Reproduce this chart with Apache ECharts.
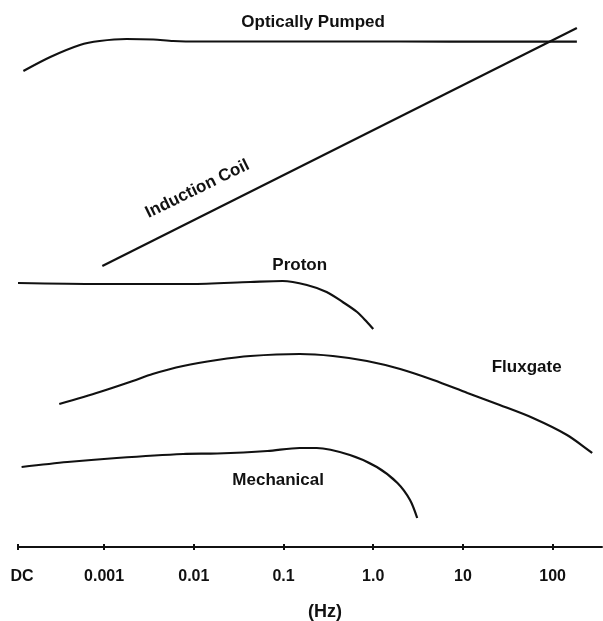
<!DOCTYPE html>
<html>
<head>
<meta charset="utf-8">
<script src="https://cdn.jsdelivr.net/npm/echarts@6/dist/echarts.min.js"></script>
<style>
  html, body { margin: 0; padding: 0; background: #fff; }
  #chart { width: 603px; height: 621px; }
</style>
</head>
<body>
<div id="chart"></div>
<script>
// x is log10(Hz); DC sits just left of 0.001
const tickValues = [-3.96, -3, -2, -1, 0, 1, 2]
const tickLabels = ['DC', '0.001', '0.01', '0.1', '1.0', '10', '100']

// relative sensitivity
const opticallyPumped = [
  [-3.90, 476], [-3.60, 490], [-3.27, 502], [-3.05, 506], [-2.75, 508], [-2.45, 507.5],
  [-2.23, 506], [-1.93, 505.5], [-0.82, 505.5], [0.30, 505.5], [1.41, 505.3], [2.27, 505.3]
]
const inductionCoil = [[-3.02, 281], [2.27, 519]]
const proton = [
  [-3.96, 264], [-3.05, 263], [-2.04, 263], [-1.37, 265], [-1.01, 266], [-0.74, 262],
  [-0.52, 255], [-0.34, 245], [-0.18, 235], [-0.07, 225], [0.0, 218]
]
const fluxgate = [
  [-3.50, 143], [-3.05, 155], [-2.68, 166], [-2.46, 173], [-2.12, 181], [-1.74, 187],
  [-1.37, 191], [-0.82, 193], [-0.45, 191], [-0.07, 186], [0.30, 178], [0.67, 167],
  [1.05, 154], [1.41, 142], [1.78, 129], [2.16, 112], [2.44, 94]
]
const mechanical = [
  [-3.92, 80], [-3.41, 85], [-2.86, 89], [-2.12, 93], [-1.74, 93.5], [-1.18, 96],
  [-0.82, 99], [-0.63, 99], [-0.26, 92], [0.04, 80], [0.27, 64], [0.41, 47], [0.49, 29]
]

// where each curve's name sits [x, y, rotate]
const curveLabels = {
  'Optically Pumped': [-0.67, 525, 0],
  'Induction Coil': [-1.96, 358, 26],
  'Proton': [-0.82, 282, 0],
  'Fluxgate': [1.71, 180, 0],
  'Mechanical': [-1.06, 67, 0],
}

const font = '"Liberation Sans", Arial, sans-serif'
const ink = '#111'

function curve(name, data, smooth) {
  const [lx, ly, rot] = curveLabels[name]
  return {
    name,
    type: 'line',
    data,
    smooth,
    symbol: 'none',
    animation: false,
    lineStyle: { color: ink, width: 2.2 },
    markPoint: {
      symbol: 'circle',
      symbolSize: 0,
      silent: true,
      data: [{ coord: [lx, ly] }],
      label: {
        show: true,
        position: 'inside',
        formatter: name,
        rotate: rot,
        color: ink,
        fontFamily: font,
        fontWeight: 'bold',
        fontSize: 17,
      },
    },
  }
}

const labelText = { color: ink, fontFamily: font, fontWeight: 'bold', fontSize: 16 }

const chart = echarts.init(document.getElementById('chart'))
chart.setOption({
  backgroundColor: '#fff',
  animation: false,
  grid: { left: 18, right: 1, top: 0, bottom: 74, outerBoundsMode: 'none', containLabel: false },
  xAxis: [
    {
      type: 'value',
      min: -3.96,
      max: 2.55,
      position: 'bottom',
      splitLine: { show: false },
      axisLine: { lineStyle: { color: ink, width: 2 } },
      axisTick: { customValues: tickValues, length: 3, lineStyle: { color: ink, width: 2 } },
      axisLabel: {
        customValues: tickValues,
        formatter: v => {
          const i = tickValues.indexOf(v)
          if (i < 0) return ''
          return i === 0 ? '{dc|' + tickLabels[i] + '}' : tickLabels[i]
        },
        margin: 22,
        ...labelText,
        rich: { dc: { ...labelText, padding: [0, 0, 0, 8] } },
      },
      name: '(Hz)',
      nameLocation: 'middle',
      nameGap: 56,
      nameTextStyle: {
        color: ink,
        fontFamily: font,
        fontWeight: 'bold',
        fontSize: 18,
        padding: [0, 0, 0, 30],
      },
    },
    {
      type: 'value',
      min: -3.96,
      max: 2.55,
      position: 'bottom',
      splitLine: { show: false },
      axisLine: { show: false },
      axisTick: { inside: true, customValues: tickValues, length: 3, lineStyle: { color: ink, width: 2 } },
      axisLabel: { show: false },
    },
  ],
  yAxis: { type: 'value', min: 0, max: 547, show: false },
  series: [
    curve('Optically Pumped', opticallyPumped, 0.3),
    curve('Induction Coil', inductionCoil, false),
    curve('Proton', proton, 0.3),
    curve('Fluxgate', fluxgate, 0.3),
    curve('Mechanical', mechanical, 0.3),
  ],
})
</script>
</body>
</html>
